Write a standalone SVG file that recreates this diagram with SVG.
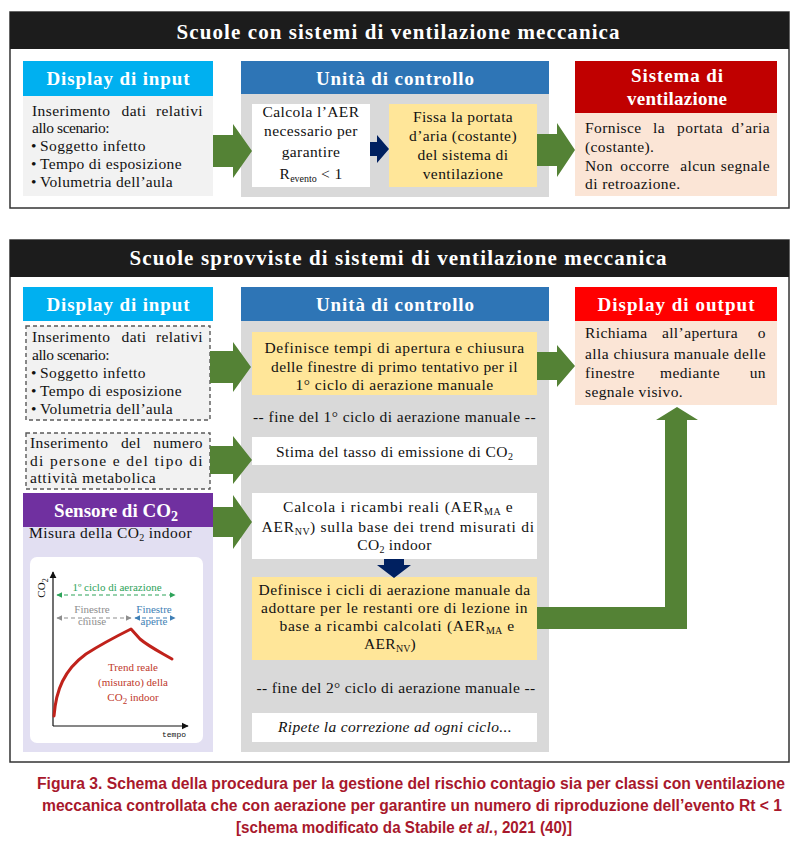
<svg xmlns="http://www.w3.org/2000/svg" width="799" height="846" viewBox="0 0 799 846">
<style>
.t{font-family:"Liberation Serif","Times New Roman",serif;font-size:15.5px;letter-spacing:0.4px;fill:#111}
.h{font-family:"Liberation Serif","Times New Roman",serif;font-size:19px;font-weight:bold;fill:#fff;text-anchor:middle}
.ti{font-family:"Liberation Serif","Times New Roman",serif;font-size:21px;font-weight:bold;fill:#fff;text-anchor:middle}
.m{text-anchor:middle}
.e{text-anchor:end}
.frame{fill:#fff;stroke:#333;stroke-width:1.5}
.bar{fill:#1c1c1c}
.ga{fill:#548235}
.na{fill:#002060}
.dash{fill:#f2f2f2;stroke:#595959;stroke-width:1.4;stroke-dasharray:4 3}
.cap{font-family:"Liberation Sans",Arial,sans-serif;font-size:16px;font-weight:bold;fill:#A8182C;text-anchor:middle}
.sub{font-size:10px;letter-spacing:0}
.ct{font-family:"Liberation Serif","Times New Roman",serif;font-size:11px;text-anchor:middle}
</style>
<defs>
<marker id="ag" viewBox="0 0 10 10" refX="9" refY="5" markerWidth="5" markerHeight="5" orient="auto-start-reverse"><path d="M0,0 L10,5 L0,10 z" fill="#2EA35A"/></marker>
<marker id="agr" viewBox="0 0 10 10" refX="9" refY="5" markerWidth="5" markerHeight="5" orient="auto-start-reverse"><path d="M0,0 L10,5 L0,10 z" fill="#8E8E8E"/></marker>
<marker id="ab" viewBox="0 0 10 10" refX="9" refY="5" markerWidth="5" markerHeight="5" orient="auto-start-reverse"><path d="M0,0 L10,5 L0,10 z" fill="#3F7FB5"/></marker>
<marker id="ak" viewBox="0 0 10 10" refX="9" refY="5" markerWidth="6" markerHeight="6" orient="auto"><path d="M0,0 L10,5 L0,10 z" fill="#111"/></marker>
</defs>
<rect x="0" y="0" width="799" height="846" fill="#fff"/>

<!-- TOP SECTION -->
<g id="top-section">
<rect class="frame" x="10" y="12" width="779" height="196"/>
<rect class="bar" x="10" y="12" width="779" height="37"/>
<text class="ti" x="398" y="38.5" textLength="443">Scuole con sistemi di ventilazione meccanica</text>
</g>

<g id="top-input">
<rect x="23" y="61" width="190" height="35" fill="#00B0F0"/>
<rect x="23" y="96" width="190" height="100" fill="#F2F2F2"/>
<text class="h" x="118" y="85" textLength="143">Display di input</text>
<text class="t" y="116"><tspan x="32">Inserimento</tspan><tspan x="134" class="m">dati</tspan><tspan x="203" class="e">relativi</tspan></text>
<text class="t" x="32" y="133" textLength="78">allo scenario:</text>
<text class="t" x="31" y="151">•</text><text class="t" x="40" y="151" textLength="106">Soggetto infetto</text>
<text class="t" x="31" y="169">•</text><text class="t" x="40" y="169" textLength="142">Tempo di esposizione</text>
<text class="t" x="31" y="187">•</text><text class="t" x="40" y="187" textLength="133">Volumetria dell’aula</text>
</g>

<g id="top-control">
<rect x="241" y="61" width="308" height="33" fill="#2E75B6"/>
<rect x="241" y="94" width="308" height="103" fill="#D9D9D9"/>
<text class="h" x="395" y="85" textLength="158">Unità di controllo</text>
</g>

<g id="top-calc">
<rect x="252" y="104" width="118" height="83" fill="#fff"/>
<text class="t m" x="311" y="117">Calcola l’AER</text>
<text class="t m" x="311" y="136">necessario per</text>
<text class="t m" x="311" y="157">garantire</text>
<text class="t m" x="311" y="179">R<tspan class="sub" dy="3">evento</tspan><tspan dy="-3"> &lt; 1</tspan></text>
</g>

<g id="top-fix">
<rect x="389" y="104" width="148" height="83" fill="#FFE699"/>
<text class="t m" x="463" y="122">Fissa la portata</text>
<text class="t m" x="463" y="141">d’aria (costante)</text>
<text class="t m" x="463" y="160">del sistema di</text>
<text class="t m" x="463" y="179">ventilazione</text>
</g>

<g id="top-vent">
<rect x="575" y="61" width="202" height="52" fill="#C00000"/>
<rect x="575" y="113" width="202" height="83" fill="#FBE5D6"/>
<text class="h" x="677" y="82" textLength="92">Sistema di</text>
<text class="h" x="677" y="105" textLength="100">ventilazione</text>
<text class="t" y="133"><tspan x="585">Fornisce</tspan><tspan x="659" class="m">la</tspan><tspan x="700" class="m">portata</tspan><tspan x="770" class="e">d’aria</tspan></text>
<text class="t" x="585" y="152">(costante).</text>
<text class="t" y="171"><tspan x="585">Non</tspan><tspan x="645" class="m">occorre</tspan><tspan x="698" class="m">alcun</tspan><tspan x="770" class="e">segnale</tspan></text>
<text class="t" x="585" y="189">di retroazione.</text>
</g>

<!-- BOTTOM SECTION -->
<g id="bottom-section">
<rect class="frame" x="10" y="240" width="779" height="522"/>
<rect class="bar" x="10" y="240" width="779" height="37"/>
<text class="ti" x="398" y="265" textLength="537">Scuole sprovviste di sistemi di ventilazione meccanica</text>
</g>

<g id="bot-input">
<rect x="23" y="287" width="190" height="34" fill="#00B0F0"/>
<text class="h" x="118" y="311" textLength="143">Display di input</text>
</g>

<g id="bot-scenario">
<rect class="dash" x="26" y="326" width="184" height="94"/>
<text class="t" y="342"><tspan x="32">Inserimento</tspan><tspan x="134" class="m">dati</tspan><tspan x="203" class="e">relativi</tspan></text>
<text class="t" x="32" y="360" textLength="78">allo scenario:</text>
<text class="t" x="31" y="378">•</text><text class="t" x="40" y="378" textLength="106">Soggetto infetto</text>
<text class="t" x="31" y="396">•</text><text class="t" x="40" y="396" textLength="142">Tempo di esposizione</text>
<text class="t" x="31" y="414">•</text><text class="t" x="40" y="414" textLength="133">Volumetria dell’aula</text>
</g>

<g id="bot-persons">
<rect class="dash" x="26" y="433" width="184" height="56"/>
<text class="t" y="448"><tspan x="30">Inserimento</tspan><tspan x="131" class="m">del</tspan><tspan x="203" class="e">numero</tspan></text>
<text class="t" x="30" y="466" textLength="173">di persone e del tipo di</text>
<text class="t" x="30" y="483" textLength="126">attività metabolica</text>
</g>

<g id="bot-sensor">
<rect x="23" y="493" width="190" height="34" fill="#7030A0"/>
<rect x="23" y="527" width="190" height="225" fill="#E2DFF2"/>
<text class="h" x="116" y="517" font-size="21">Sensore di CO<tspan font-size="14" dy="4">2</tspan></text>
<text class="t" x="29" y="538" textLength="163">Misura della CO<tspan class="sub" dy="3">2</tspan><tspan dy="-3"> indoor</tspan></text>
<rect x="30" y="557" width="173" height="186" rx="7" fill="#fff"/>
<line x1="53" y1="726" x2="53" y2="572" stroke="#111" stroke-width="1.2" marker-end="url(#ak)"/>
<line x1="53" y1="726" x2="188" y2="726" stroke="#111" stroke-width="1.2" marker-end="url(#ak)"/>
<text class="ct" transform="translate(45,588) rotate(-90)" font-size="12" fill="#111">CO<tspan font-size="8" dy="3">2</tspan></text>
<line x1="57" y1="595" x2="175" y2="595" stroke="#2EA35A" stroke-width="1.2" stroke-dasharray="4 3" marker-start="url(#ag)" marker-end="url(#ag)"/>
<text class="ct" x="117" y="591" fill="#2EA35A">1º ciclo di aerazione</text>
<line x1="57" y1="618" x2="131" y2="618" stroke="#8E8E8E" stroke-width="1.2" stroke-dasharray="4 3" marker-start="url(#agr)" marker-end="url(#agr)"/>
<line x1="135" y1="618" x2="175" y2="618" stroke="#3F7FB5" stroke-width="1.2" stroke-dasharray="4 3" marker-start="url(#ab)" marker-end="url(#ab)"/>
<text class="ct" x="92" y="613" fill="#8E8E8E">Finestre</text>
<text class="ct" x="92" y="625" fill="#8E8E8E">chiuse</text>
<text class="ct" x="154" y="613" fill="#3F7FB5">Finestre</text>
<text class="ct" x="154" y="625" fill="#3F7FB5">aperte</text>
<path d="M54,716 C56,690 64,670 86,654 C100,645 115,637 131,629 L140,639 C148,646 160,652 172,659" fill="none" stroke="#C0221B" stroke-width="3" stroke-linecap="round" stroke-linejoin="round"/>
<text class="ct" x="133" y="671" font-size="13" fill="#C0392B">Trend reale</text>
<text class="ct" x="133" y="686" font-size="13" fill="#C0392B">(misurato) della</text>
<text class="ct" x="133" y="701" font-size="13" fill="#C0392B">CO<tspan font-size="9" dy="3">2</tspan><tspan dy="-3"> indoor</tspan></text>
<text x="186" y="737" font-family="Liberation Mono, monospace" font-size="8" fill="#111" text-anchor="end">tempo</text>
</g>

<g id="bot-control">
<rect x="241" y="287" width="308" height="34" fill="#2E75B6"/>
<rect x="241" y="321" width="308" height="431" fill="#D9D9D9"/>
<text class="h" x="395" y="311" textLength="158">Unità di controllo</text>
</g>

<g id="bot-define1">
<rect x="252" y="332" width="285" height="63" fill="#FFE699"/>
<text class="t m" x="394.5" y="353" textLength="260">Definisce tempi di apertura e chiusura</text>
<text class="t m" x="394.5" y="372" textLength="247">delle finestre di primo tentativo per il</text>
<text class="t m" x="394.5" y="390" textLength="198">1° ciclo di aerazione manuale</text>
</g>

<g id="bot-fine1">
<text class="t m" x="394.5" y="422" textLength="283">-- fine del 1° ciclo di aerazione manuale --</text>
</g>

<g id="bot-stima">
<rect x="252" y="437" width="285" height="28" fill="#fff"/>
<text class="t m" x="394.5" y="457" textLength="237">Stima del tasso di emissione di CO<tspan class="sub" dy="3">2</tspan></text>
</g>

<g id="bot-calc">
<rect x="252" y="493" width="285" height="66" fill="#fff"/>
<text class="t m" x="398" y="512" textLength="230">Calcola i ricambi reali (AER<tspan class="sub" dy="3">MA</tspan><tspan dy="-3"> e</tspan></text>
<text class="t m" x="398" y="532" textLength="273">AER<tspan class="sub" dy="3">NV</tspan><tspan dy="-3">) sulla base dei trend misurati di</tspan></text>
<text class="t m" x="394.5" y="550">CO<tspan class="sub" dy="3">2</tspan><tspan dy="-3"> indoor</tspan></text>
</g>

<g id="bot-define2">
<rect x="252" y="577" width="285" height="83" fill="#FFE699"/>
<text class="t m" x="394.5" y="595" textLength="272">Definisce i cicli di aerazione manuale da</text>
<text class="t m" x="394.5" y="613" textLength="267">adottare per le restanti ore di lezione in</text>
<text class="t m" x="397" y="631" textLength="235">base a ricambi calcolati (AER<tspan class="sub" dy="3">MA</tspan><tspan dy="-3"> e</tspan></text>
<text class="t m" x="390" y="649">AER<tspan class="sub" dy="3">NV</tspan><tspan dy="-3">)</tspan></text>
</g>

<g id="bot-fine2">
<text class="t m" x="396" y="693" textLength="279">-- fine del 2° ciclo di aerazione manuale --</text>
</g>

<g id="bot-repeat">
<rect x="252" y="713" width="285" height="29" fill="#fff"/>
<text class="t m" x="395" y="732" font-style="italic" textLength="234">Ripete la correzione ad ogni ciclo...</text>
</g>

<g id="bot-output">
<rect x="575" y="287" width="202" height="34" fill="#FF0000"/>
<rect x="575" y="321" width="202" height="84" fill="#FBE5D6"/>
<text class="h" x="676" y="311" textLength="157">Display di output</text>
<text class="t" y="338"><tspan x="585">Richiama</tspan><tspan x="700" class="m">all’apertura</tspan><tspan x="766" class="e">o</tspan></text>
<text class="t" x="585" y="359" textLength="181">alla chiusura manuale delle</text>
<text class="t" y="378"><tspan x="585">finestre</tspan><tspan x="690" class="m">mediante</tspan><tspan x="766" class="e">un</tspan></text>
<text class="t" x="585" y="397">segnale visivo.</text>
</g>

<g id="connectors">
<polygon class="ga" points="213,135 233,135 233,124 252,151 233,178 233,167 213,167"/>
<polygon class="ga" points="537,134 557,134 557,123 575,150 557,177 557,166 537,166"/>
<polygon class="na" points="370,142 377,142 377,135 389,149 377,163 377,156 370,156"/>
<polygon class="ga" points="210,351 233,351 233,342 251,367 233,392 233,383 210,383"/>
<polygon class="ga" points="537,352 557,352 557,345 575,366 557,387 557,380 537,380"/>
<polygon class="ga" points="210,446 233,446 233,436 252,460 233,484 233,474 210,474"/>
<polygon class="ga" points="213,507 233,507 233,495 252,522 233,549 233,537 213,537"/>
<polygon class="na" points="384,559 404,559 404,565 411,565 394,578 377,565 384,565"/>
<polygon class="ga" points="537,607 665,607 665,420 656,420 677,407 698,420 687,420 687,629 537,629"/>
</g>

<g id="caption">
<text class="cap" x="411" y="789" textLength="748" lengthAdjust="spacingAndGlyphs">Figura 3. Schema della procedura per la gestione del rischio contagio sia per classi con ventilazione</text>
<text class="cap" x="412" y="811" textLength="740" lengthAdjust="spacingAndGlyphs">meccanica controllata che con aerazione per garantire un numero di riproduzione dell’evento Rt &lt; 1</text>
<g transform="translate(404,833) scale(0.95,1)">
<text class="cap" x="0" y="0">[schema modificato da Stabile <tspan font-style="italic">et al.</tspan>, 2021 (40)]</text>
</g>
</g>
</svg>
